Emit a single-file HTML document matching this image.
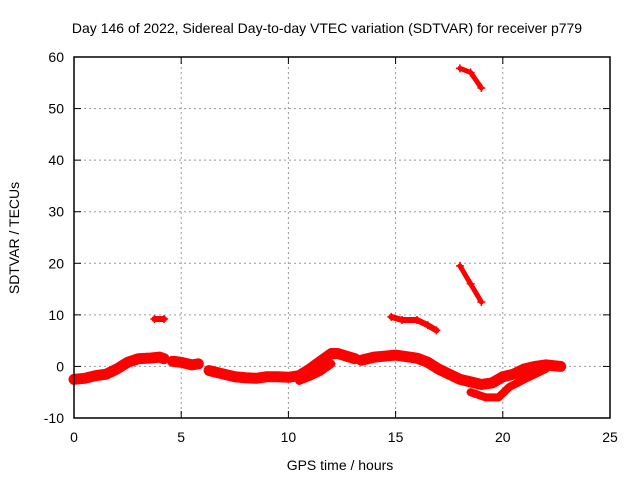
<!DOCTYPE html>
<html><head><meta charset="utf-8"><style>
body{margin:0;background:#fff;}
svg{display:block;font-family:"Liberation Sans",sans-serif;}
</style></head><body>
<svg id="c" width="640" height="480">
<rect width="640" height="480" fill="#fff"/>
<text x="327" y="33" text-anchor="middle" font-size="14">Day 146 of 2022, Sidereal Day-to-day VTEC variation (SDTVAR) for receiver p779</text>
<text x="340" y="470" text-anchor="middle" font-size="14">GPS time / hours</text>
<text transform="translate(19,238) rotate(-90)" text-anchor="middle" font-size="14">SDTVAR / TECUs</text>
<g id="grid"></g><g id="data"></g>
<rect x="74" y="57" width="536" height="361" fill="none" stroke="#000" stroke-width="1.5"/>
<g id="ticks"></g>
</svg>
<script>
const xTicks=[0,5,10,15,20,25];
const yTicks=[-10,0,10,20,30,40,50,60];
const segA=[[0,-2.5],[0.5,-2.3],[1,-1.8],[1.5,-1.5],[2,-0.5],[2.5,0.8],[3,1.5],[3.5,1.6],[4,1.8],[4.2,1.5]];
const segB=[[4.6,1.0],[5,0.8],[5.5,0.3],[5.8,0.5]];
const segC=[[6.3,-0.8],[7,-1.5],[7.5,-2],[8,-2.2],[8.5,-2.3],[9,-2],[9.5,-2],[10,-2.1],[10.5,-1.8],[11,-0.5],[11.5,1],[12,2.5],[12.3,2.5],[12.7,2],[13.1,1.5]];
const segC2=[[10.5,-2.8],[11,-2],[11.5,-1],[12,0.5]];
const segD=[[13.4,1.2],[14,1.8],[15,2.2],[16,1.6],[16.5,0.8],[17,-0.5],[17.5,-1.5],[18,-2.5],[18.5,-3],[19,-3.5],[19.5,-3.2],[20,-2],[20.5,-1.5],[21,-0.5],[21.5,0],[22,0.3],[22.7,0]];
const segD2=[[18.5,-5],[19.2,-6],[19.8,-6],[20.3,-4],[21,-2.5],[21.5,-1.5],[22,-0.5]];
const segE=[[3.75,9.2],[4.2,9.2]];
const segF=[[14.8,9.6],[15.3,9],[16,9],[16.5,8],[16.9,7]];
const segG=[[18,19.5],[18.5,16],[19,12.5]];
const segH=[[18,57.8],[18.5,57],[19,54]];
const series=[segA,segB,segC,segC2,segD,segD2,segE,segF,segG,segH];
const widths=[11,11,11,8,11,8,6,6,5,5];
const X=t=>74+t*536/25, Y=v=>418-(v+10)*361/70;
const NS='http://www.w3.org/2000/svg';
function mk(tag,attrs,parent){const e=document.createElementNS(NS,tag);for(const k in attrs)e.setAttribute(k,attrs[k]);parent.appendChild(e);return e;}
const grid=document.getElementById('grid'),ticks=document.getElementById('ticks'),data=document.getElementById('data');
xTicks.forEach(t=>{
 if(t>0&&t<25){const g=mk('line',{x1:X(t),x2:X(t),y1:57,y2:418,stroke:'#999','stroke-dasharray':'2,3'},grid);
 
 }
 mk('line',{x1:X(t),x2:X(t),y1:418,y2:411,stroke:'#000'},ticks);
 mk('line',{x1:X(t),x2:X(t),y1:57,y2:64,stroke:'#000'},ticks);
 const l=mk('text',{x:X(t),y:442,'text-anchor':'middle','font-size':14},ticks);l.textContent=t;
 
 
});
yTicks.forEach(v=>{
 if(v>-10&&v<60){const g=mk('line',{x1:74,x2:610,y1:Y(v),y2:Y(v),stroke:'#999','stroke-dasharray':'2,3'},grid);
 
 }
 mk('line',{x1:74,x2:81,y1:Y(v),y2:Y(v),stroke:'#000'},ticks);
 mk('line',{x1:610,x2:603,y1:Y(v),y2:Y(v),stroke:'#000'},ticks);
 const l=mk('text',{x:64,y:Y(v)+5,'text-anchor':'end','font-size':14},ticks);l.textContent=v;
 
 
});
series.forEach((s,i)=>{
 const p=mk('polyline',{points:s.map(d=>X(d[0])+','+Y(d[1])).join(' '),fill:'none',stroke:'#f00','stroke-width':widths[i],'stroke-linecap':'round','stroke-linejoin':'round'},data);
 
 
 s.forEach(d=>{
  const m=mk('path',{d:`M${X(d[0])-4},${Y(d[1])}h8M${X(d[0])},${Y(d[1])-4}v8`,stroke:'#f00','stroke-width':1.5},data);
  
  
 });
});
</script>
</body></html>
